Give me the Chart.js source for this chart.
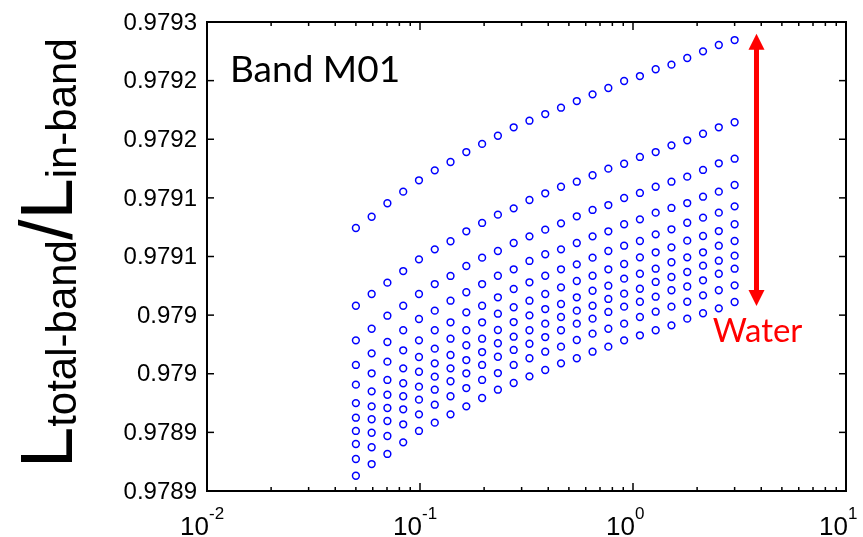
<!DOCTYPE html>
<html>
<head>
<meta charset="utf-8">
<script src="https://cdn.jsdelivr.net/npm/chart.js@4.4.0/dist/chart.umd.min.js"></script>
<style>
  html, body { margin: 0; padding: 0; background: #fff; }
  #wrap { width: 863px; height: 537px; }
</style>
</head>
<body>
<div id="wrap"><canvas id="ratioChart" width="863" height="537"></canvas></div>
<script>
// aerosol optical depth (x) for every simulated case
var aod = [0.05, 0.0593, 0.0703, 0.0834, 0.0989, 0.1173, 0.1391, 0.1650, 0.1957, 0.2321, 0.2753, 0.3265,
  0.3872, 0.4592, 0.5446, 0.6459, 0.7660, 0.9085, 1.0775, 1.2779, 1.5156, 1.7975, 2.1318, 2.5283, 3.0];

// L_total-band / L_in-band, one row per water vapour amount
var row0 = [0.9791243, 0.9791339, 0.9791454, 0.9791553, 0.9791650, 0.9791735, 0.9791806, 0.9791891, 0.9791960, 0.9792030, 0.9792102, 0.9792158, 0.9792215, 0.9792269, 0.9792326, 0.9792383, 0.9792437, 0.9792497, 0.9792539, 0.9792597, 0.9792636, 0.9792693, 0.9792750, 0.9792804, 0.9792846];
var row1 = [0.9790580, 0.9790680, 0.9790777, 0.9790876, 0.9790976, 0.9791061, 0.9791130, 0.9791215, 0.9791286, 0.9791357, 0.9791411, 0.9791482, 0.9791539, 0.9791595, 0.9791638, 0.9791693, 0.9791749, 0.9791791, 0.9791849, 0.9791891, 0.9791948, 0.9791991, 0.9792047, 0.9792102, 0.9792145];
var row2 = [0.9790285, 0.9790384, 0.9790495, 0.9790580, 0.9790680, 0.9790765, 0.9790834, 0.9790919, 0.9790990, 0.9791047, 0.9791115, 0.9791172, 0.9791229, 0.9791283, 0.9791343, 0.9791397, 0.9791439, 0.9791499, 0.9791542, 0.9791595, 0.9791638, 0.9791681, 0.9791738, 0.9791795, 0.9791834];
var row3 = [0.9790075, 0.9790174, 0.9790271, 0.9790371, 0.9790467, 0.9790538, 0.9790623, 0.9790695, 0.9790765, 0.9790836, 0.9790891, 0.9790962, 0.9791019, 0.9791061, 0.9791115, 0.9791172, 0.9791215, 0.9791275, 0.9791317, 0.9791374, 0.9791414, 0.9791456, 0.9791510, 0.9791553, 0.9791610];
var row4 = [0.9789907, 0.9790004, 0.9790103, 0.9790200, 0.9790285, 0.9790371, 0.9790439, 0.9790524, 0.9790580, 0.9790652, 0.9790723, 0.9790780, 0.9790836, 0.9790891, 0.9790933, 0.9790990, 0.9791047, 0.9791092, 0.9791132, 0.9791189, 0.9791232, 0.9791288, 0.9791331, 0.9791374, 0.9791428];
var row5 = [0.9789750, 0.9789850, 0.9789947, 0.9790046, 0.9790143, 0.9790214, 0.9790299, 0.9790371, 0.9790439, 0.9790512, 0.9790567, 0.9790623, 0.9790680, 0.9790737, 0.9790791, 0.9790836, 0.9790891, 0.9790936, 0.9790993, 0.9791036, 0.9791078, 0.9791135, 0.9791175, 0.9791217, 0.9791275];
var row6 = [0.9789625, 0.9789722, 0.9789821, 0.9789919, 0.9790017, 0.9790089, 0.9790160, 0.9790243, 0.9790299, 0.9790373, 0.9790441, 0.9790498, 0.9790552, 0.9790595, 0.9790652, 0.9790708, 0.9790751, 0.9790811, 0.9790853, 0.9790896, 0.9790951, 0.9790993, 0.9791036, 0.9791092, 0.9791132];
var row7 = [0.9789512, 0.9789612, 0.9789708, 0.9789808, 0.9789890, 0.9789975, 0.9790046, 0.9790117, 0.9790185, 0.9790260, 0.9790316, 0.9790371, 0.9790427, 0.9790484, 0.9790538, 0.9790580, 0.9790638, 0.9790683, 0.9790725, 0.9790783, 0.9790825, 0.9790868, 0.9790922, 0.9790964, 0.9791007];
var row8 = [0.9789401, 0.9789497, 0.9789597, 0.9789697, 0.9789779, 0.9789864, 0.9789936, 0.9790004, 0.9790075, 0.9790145, 0.9790203, 0.9790256, 0.9790313, 0.9790371, 0.9790427, 0.9790470, 0.9790527, 0.9790572, 0.9790614, 0.9790657, 0.9790712, 0.9790744, 0.9790797, 0.9790853, 0.9790896];
var row9 = [0.9789273, 0.9789373, 0.9789469, 0.9789569, 0.9789654, 0.9789736, 0.9789808, 0.9789878, 0.9789947, 0.9790006, 0.9790075, 0.9790132, 0.9790188, 0.9790231, 0.9790288, 0.9790342, 0.9790384, 0.9790427, 0.9790484, 0.9790529, 0.9790572, 0.9790614, 0.9790669, 0.9790712, 0.9790754];
var row10 = [0.9789130, 0.9789230, 0.9789316, 0.9789415, 0.9789512, 0.9789583, 0.9789654, 0.9789722, 0.9789793, 0.9789864, 0.9789921, 0.9789978, 0.9790032, 0.9790089, 0.9790132, 0.9790188, 0.9790231, 0.9790285, 0.9790328, 0.9790371, 0.9790413, 0.9790470, 0.9790516, 0.9790558, 0.9790612];
var rows = [row0, row1, row2, row3, row4, row5, row6, row7, row8, row9, row10];

// axis ticks and the labels printed next to them
var yTicks = [0.97890, 0.97895, 0.97900, 0.97905, 0.97910, 0.97915, 0.97920, 0.97925, 0.97930];
var yTickLabels = ['0.9789', '0.9789', '0.979', '0.979', '0.9791', '0.9791', '0.9792', '0.9792', '0.9793'];
var xTicks = [0.01, 0.1, 1, 10];
var xTickExponents = ['-2', '-1', '0', '1'];

// water arrow: x position and the span it covers
var arrowX = 3.8;
var arrowSpan = [0.9790578, 0.9792900];

var panelLabel = 'Band M01';
var arrowLabel = 'Water';
var yTitleParts = [
  { text: 'L', sub: false },
  { text: 'total-band', sub: true },
  { text: '/', sub: false },
  { text: 'L', sub: false },
  { text: 'in-band', sub: true }
];

var tickFont = '24px "Liberation Sans", Arial, sans-serif';
var noteFont = '"Lato", "Open Sans", sans-serif';

function line(ctx, x1, y1, x2, y2) {
  ctx.beginPath();
  ctx.moveTo(x1, y1);
  ctx.lineTo(x2, y2);
  ctx.stroke();
}

function drawFrame(chart) {
  var ctx = chart.ctx;
  var a = chart.chartArea;
  var xs = chart.scales.x;
  var ys = chart.scales.y;

  ctx.strokeStyle = '#000';
  ctx.lineWidth = 2;
  ctx.strokeRect(a.left, a.top, a.right - a.left, a.bottom - a.top);

  ctx.lineWidth = 1.5;
  yTicks.forEach(function(v) {
    var py = ys.getPixelForValue(v);
    line(ctx, a.left, py, a.left + 7, py);
    line(ctx, a.right, py, a.right - 7, py);
  });

  // decades plus the 2..9 minor ticks of the log axis
  for (var d = 0; d < xTicks.length; d++) {
    var px = xs.getPixelForValue(xTicks[d]);
    line(ctx, px, a.bottom, px, a.bottom - 8);
    line(ctx, px, a.top, px, a.top + 8);
    if (d === xTicks.length - 1) break;
    for (var m = 2; m <= 9; m++) {
      var pm = xs.getPixelForValue(xTicks[d] * m);
      line(ctx, pm, a.bottom, pm, a.bottom - 4);
      line(ctx, pm, a.top, pm, a.top + 4);
    }
  }

  ctx.fillStyle = '#000';
  ctx.font = tickFont;
  ctx.textAlign = 'right';
  ctx.textBaseline = 'middle';
  yTicks.forEach(function(v, i) {
    ctx.fillText(yTickLabels[i], a.left - 10, ys.getPixelForValue(v) + 1);
  });

  ctx.textBaseline = 'alphabetic';
  xTicks.forEach(function(v, i) {
    var px = xs.getPixelForValue(v);
    ctx.font = '26px "Liberation Sans", Arial, sans-serif';
    ctx.textAlign = 'right';
    ctx.fillText('10', px + 2, a.bottom + 44);
    ctx.font = '17px "Liberation Sans", Arial, sans-serif';
    ctx.textAlign = 'left';
    ctx.fillText(xTickExponents[i], px + 2, a.bottom + 28);
  });
}

function drawYTitle(chart) {
  var ctx = chart.ctx;
  ctx.save();
  ctx.translate(72, 468);
  ctx.rotate(-Math.PI / 2);
  ctx.fillStyle = '#000';
  ctx.textAlign = 'left';
  ctx.textBaseline = 'alphabetic';
  var pos = 0;
  yTitleParts.forEach(function(p) {
    ctx.font = (p.sub ? 42 : 74) + 'px "Liberation Sans", Arial, sans-serif';
    ctx.fillText(p.text, pos, p.sub ? 4 : 0);
    pos += ctx.measureText(p.text).width;
  });
  ctx.restore();
}

function drawNotes(chart) {
  var ctx = chart.ctx;
  var a = chart.chartArea;
  var xs = chart.scales.x;
  var ys = chart.scales.y;

  ctx.fillStyle = '#000';
  ctx.font = '37px ' + noteFont;
  ctx.textAlign = 'left';
  ctx.textBaseline = 'alphabetic';
  ctx.fillText(panelLabel, a.left + 23, a.top + 60);

  // double headed red arrow over the water range
  var ax = xs.getPixelForValue(arrowX);
  var top = ys.getPixelForValue(arrowSpan[1]);
  var bottom = ys.getPixelForValue(arrowSpan[0]);
  var head = 16;
  ctx.strokeStyle = '#ff0000';
  ctx.fillStyle = '#ff0000';
  ctx.lineWidth = 5;
  line(ctx, ax, top + head - 2, ax, bottom - head + 2);
  ctx.beginPath();
  ctx.moveTo(ax, top);
  ctx.lineTo(ax - 8, top + head);
  ctx.lineTo(ax + 8, top + head);
  ctx.closePath();
  ctx.fill();
  ctx.beginPath();
  ctx.moveTo(ax, bottom);
  ctx.lineTo(ax - 8, bottom - head);
  ctx.lineTo(ax + 8, bottom - head);
  ctx.closePath();
  ctx.fill();

  ctx.font = '33px ' + noteFont;
  ctx.textAlign = 'center';
  ctx.fillText(arrowLabel, ax + 1, bottom + 36);
}

var decorations = {
  id: 'decorations',
  afterDraw: function(chart) {
    var ctx = chart.ctx;
    ctx.save();
    drawFrame(chart);
    drawYTitle(chart);
    drawNotes(chart);
    ctx.restore();
  }
};

var datasets = rows.map(function(r, i) {
  return {
    label: 'row ' + i,
    data: r.map(function(v, j) { return { x: aod[j], y: v }; }),
    showLine: false,
    pointStyle: 'circle',
    pointRadius: 3.4,
    pointBorderWidth: 1.5,
    borderColor: '#0000ff',
    pointBorderColor: '#0000ff',
    backgroundColor: 'rgba(0, 0, 0, 0)',
    pointBackgroundColor: 'rgba(0, 0, 0, 0)'
  };
});

var ratioChart = new Chart(document.getElementById('ratioChart').getContext('2d'), {
  type: 'scatter',
  data: { datasets: datasets },
  options: {
    responsive: false,
    animation: false,
    devicePixelRatio: 1,
    layout: { padding: { left: 207, right: 17, top: 22, bottom: 46 } },
    plugins: {
      legend: { display: false },
      tooltip: { enabled: false }
    },
    scales: {
      x: { type: 'logarithmic', min: 0.01, max: 10, display: false },
      y: { type: 'linear', min: 0.97890, max: 0.97930, display: false }
    }
  },
  plugins: [decorations]
});
</script>
</body>
</html>
